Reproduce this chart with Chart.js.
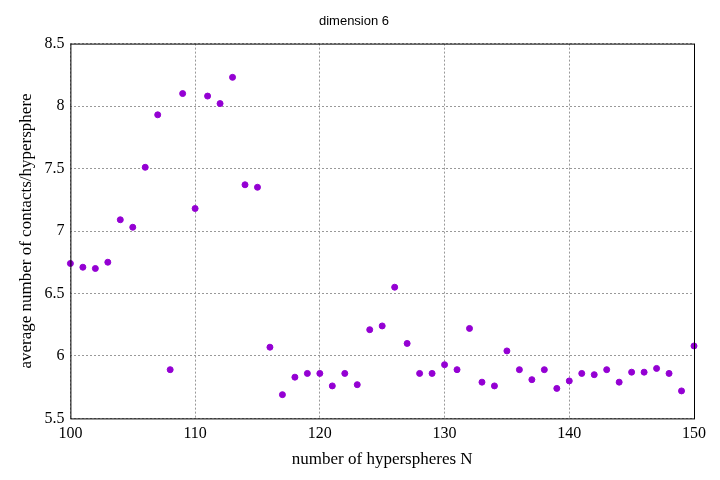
<!DOCTYPE html>
<html>
<head>
<meta charset="utf-8">
<script src="https://cdn.jsdelivr.net/npm/chart.js@4"></script>
<style>body{margin:0;background:#fff}#wrap{width:720px;height:480px}</style>
</head>
<body>
<div id="wrap"><canvas id="c"></canvas></div>
<script>
const nValues = [100,101,102,103,104,105,106,107,108,109,110,111,112,113,114,115,116,117,118,119,120,121,122,123,124,125,126,127,128,129,130,131,132,133,134,135,136,137,138,139,140,141,142,143,144,145,146,147,148,149,150];
const contacts = [6.74,6.71,6.70,6.75,7.09,7.03,7.51,7.93,5.89,8.10,7.18,8.08,8.02,8.23,7.37,7.35,6.07,5.69,5.83,5.86,5.86,5.76,5.86,5.77,6.21,6.24,6.55,6.10,5.86,5.86,5.93,5.89,6.22,5.79,5.76,6.04,5.89,5.81,5.89,5.74,5.80,5.86,5.85,5.89,5.79,5.87,5.87,5.90,5.86,5.72,6.08];
const xTicks = [100,110,120,130,140,150];

const frame = {
  id: "frame",
  afterDraw(chart) {
    const a = chart.chartArea, ctx = chart.ctx;
    ctx.save();
    ctx.strokeStyle = "#000";
    ctx.lineWidth = 1;
    ctx.strokeRect(a.left + 0.5, a.top + 0.5, a.right - a.left, a.bottom - a.top);
    ctx.restore();
  }
};

new Chart(document.getElementById("c"), {
  type: "scatter",
  data: {
    datasets: [{
      data: nValues.map((n, i) => ({ x: n, y: contacts[i] })),
      backgroundColor: "#9400d3",
      borderColor: "#9400d3",
      pointStyle: "circle",
      pointRadius: 3,
      clip: false
    }]
  },
  options: {
    responsive: true,
    maintainAspectRatio: false,
    animation: false,
    layout: { padding: { top: 10, right: 26, left: 14, bottom: 10 } },
    plugins: {
      legend: { display: false },
      tooltip: { enabled: false },
      title: { display: true, text: "dimension 6", color: "#000", font: { family: "Liberation Sans", size: 13, weight: "normal" }, padding: { top: 4, bottom: 14 } }
    },
    scales: {
      x: {
        type: "linear", min: 100, max: 150,
        afterBuildTicks: s => { s.ticks = xTicks.map(v => ({ value: v })); },
        grid: { color: "#999", drawTicks: false },
        border: { display: false, dash: [2, 2] },
        ticks: { color: "#000", padding: 6, font: { family: "Liberation Serif", size: 16 } },
        title: { display: true, text: "number of hyperspheres N", color: "#000", padding: 0, font: { family: "Liberation Serif", size: 17 } }
      },
      y: {
        min: 5.5, max: 8.5,
        grid: { color: "#999", drawTicks: false },
        border: { display: false, dash: [2, 2] },
        ticks: { stepSize: 0.5, color: "#000", padding: 6, font: { family: "Liberation Serif", size: 16 }, callback: v => String(v) },
        title: { display: true, text: "average number of contacts/hypersphere", color: "#000", padding: 2, font: { family: "Liberation Serif", size: 17 } }
      }
    }
  },
  plugins: [frame]
});
</script>
</body>
</html>
